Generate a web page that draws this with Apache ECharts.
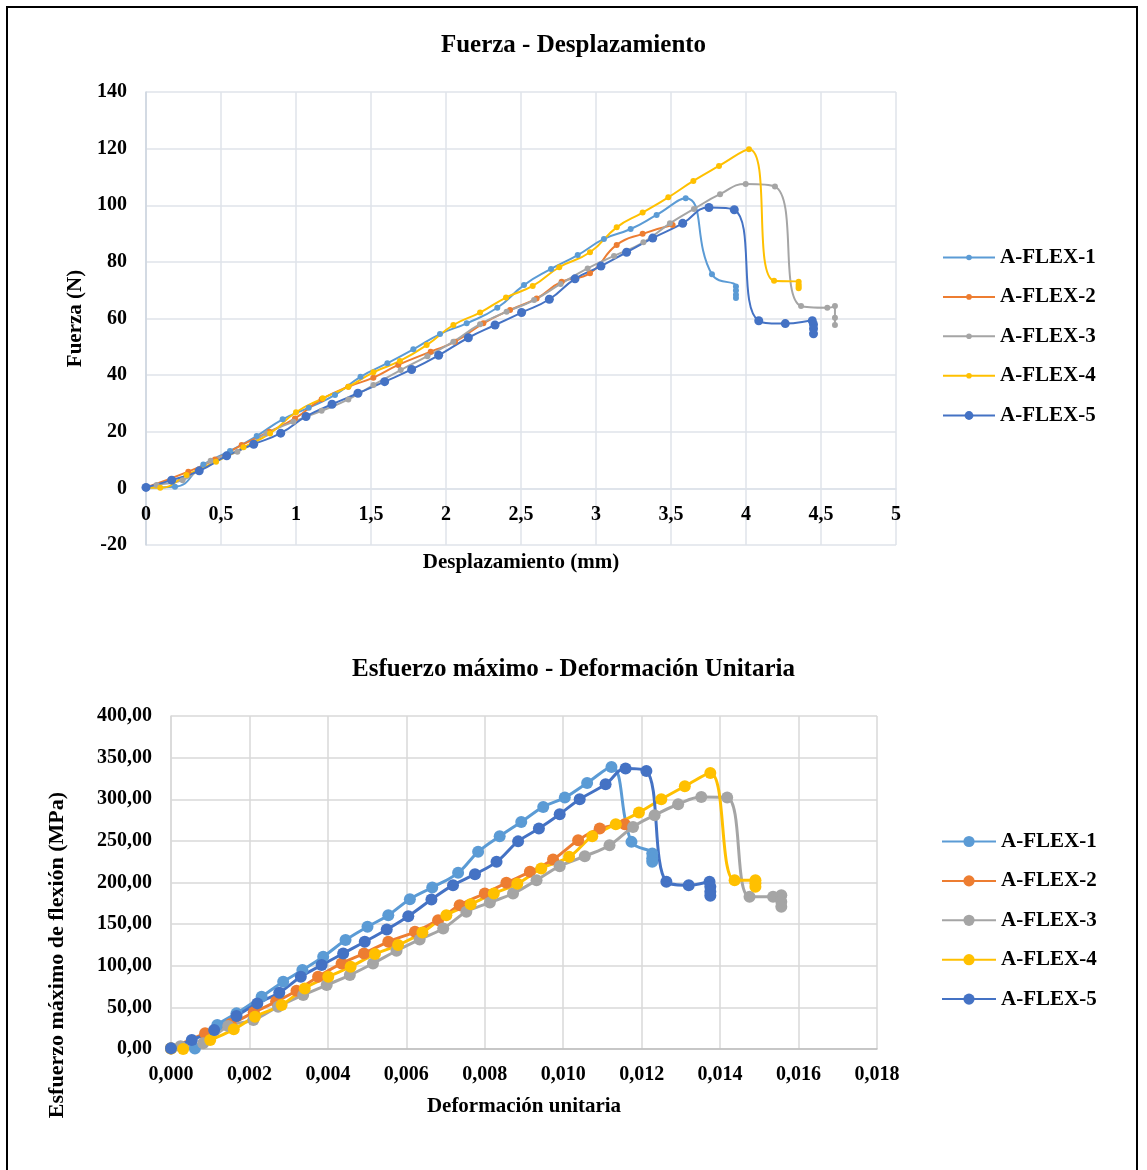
<!DOCTYPE html>
<html>
<head>
<meta charset="utf-8">
<script src="https://cdn.jsdelivr.net/npm/echarts@6/dist/echarts.min.js"></script>
<style>
html,body{margin:0;padding:0;background:#fff;}
#wrap{position:relative;width:1147px;height:1170px;overflow:hidden;}
#frame{position:absolute;left:6px;top:6px;width:1132px;height:1180px;border:2px solid #000;box-sizing:border-box;}
#c1{position:absolute;left:0;top:0;width:1147px;height:600px;}
#c2{position:absolute;left:0;top:600px;width:1147px;height:570px;}
</style>
</head>
<body>
<div id="wrap"><div id="c1"></div><div id="c2"></div><div id="frame"></div></div>
<script>
// ---------- Data: Fuerza - Desplazamiento ----------
const seriesNames = ['A-FLEX-1','A-FLEX-2','A-FLEX-3','A-FLEX-4','A-FLEX-5'];
const colors = ['#5B9BD5','#ED7D31','#A5A5A5','#FFC000','#4472C4'];

const fd1 = [[0,0.3],[0.193,0.6],[0.382,8.4],[0.56,13.2],[0.738,18.5],[0.911,24.4],[1.085,28.5],[1.26,33.0],[1.43,39.4],[1.609,44.2],[1.782,49.1],[1.96,54.5],[2.138,58.3],[2.342,63.8],[2.52,71.8],[2.70,77.5],[2.878,82.4],[3.053,88.1],[3.231,91.6],[3.404,96.6],[3.598,102.5],[3.773,75.6],[3.933,71.3],[3.933,69.9],[3.933,68.4],[3.933,67.2]];
const fd2 = [[0,0.3],[0.282,5.9],[0.46,10.2],[0.638,15.3],[0.822,20.0],[0.993,24.7],[1.171,31.5],[1.349,35.9],[1.516,39.1],[1.682,43.6],[1.898,48.3],[2.06,51.8],[2.249,58.3],[2.427,63.0],[2.604,67.1],[2.771,73.0],[2.96,76.0],[3.138,86.0],[3.311,89.9],[3.511,93.0]];
const fd3 = [[0,0.3],[0.071,1.2],[0.244,2.9],[0.431,9.8],[0.609,12.9],[0.804,19.4],[0.982,23.5],[1.171,27.4],[1.349,31.4],[1.516,36.5],[1.698,41.8],[1.876,46.7],[2.049,51.8],[2.227,58.0],[2.404,62.4],[2.587,66.5],[2.764,72.2],[2.944,77.7],[3.12,82.1],[3.316,86.9],[3.493,93.6],[3.653,98.7],[3.827,103.9],[3.998,107.5],[4.193,106.6],[4.367,64.4],[4.542,63.8],[4.593,64.4],[4.593,60.3],[4.593,57.7]];
const fd4 = [[0,0.3],[0.095,0.2],[0.27,4.7],[0.467,9.4],[0.65,14.5],[0.827,19.4],[1.0,26.9],[1.178,31.8],[1.349,35.9],[1.516,41.0],[1.693,45.0],[1.871,50.6],[2.049,57.7],[2.227,62.1],[2.4,67.4],[2.578,71.5],[2.755,78.1],[2.96,83.4],[3.138,92.2],[3.311,97.4],[3.482,102.8],[3.649,108.6],[3.82,113.9],[4.02,119.8],[4.187,73.3],[4.351,73.0],[4.351,72.0],[4.351,71.3],[4.351,70.7]];
const fd5 = [[0,0.35],[0.171,2.9],[0.355,6.2],[0.538,11.5],[0.718,15.6],[0.898,19.5],[1.067,25.4],[1.24,29.7],[1.413,33.6],[1.591,37.7],[1.771,42.0],[1.951,47.0],[2.149,53.2],[2.327,57.7],[2.504,62.1],[2.689,66.8],[2.86,74.0],[3.033,78.5],[3.204,83.4],[3.378,88.4],[3.578,93.6],[3.753,99.2],[3.922,98.4],[4.085,59.2],[4.262,58.2],[4.442,59.2],[4.45,57.9],[4.45,56.4],[4.45,54.6]];

// ---------- Data: Esfuerzo máximo - Deformación Unitaria ----------
const sd1 = [[0,1],[0.00061,0.5],[0.00118,28.8],[0.00167,42.8],[0.00231,62.8],[0.00286,80.8],[0.00335,94.8],[0.00388,110.8],[0.00445,130.8],[0.00501,146.8],[0.00554,160.8],[0.00609,180],[0.00666,194],[0.00732,211.6],[0.00783,236.8],[0.00838,255.6],[0.00893,272.8],[0.00949,290.8],[0.01004,302],[0.01061,319.6],[0.01123,338.8],[0.01174,248.8],[0.01227,234.8],[0.01227,229],[0.01227,224.8]];
const sd2 = [[0,0.5],[0.00087,18.8],[0.00152,30],[0.00211,44],[0.00268,57],[0.0032,70],[0.00375,86.8],[0.00435,102.8],[0.00492,114.8],[0.00554,128.8],[0.00622,140.8],[0.00681,154.8],[0.00736,172.8],[0.008,186.8],[0.00855,199.6],[0.00915,212.8],[0.00974,227.6],[0.01038,250.8],[0.01093,264.8],[0.01157,270]];
const sd3 = [[0,0.5],[0.00024,3.4],[0.00082,6.8],[0.00146,27.5],[0.0021,34.8],[0.00273,50.8],[0.00337,64.8],[0.00397,76.8],[0.00456,88.8],[0.00515,102.8],[0.00575,118],[0.00634,131.6],[0.00694,144.8],[0.00753,164.8],[0.00813,176],[0.00872,186.8],[0.00932,202.8],[0.00991,219.6],[0.01055,231.6],[0.01118,244.8],[0.01178,266.8],[0.01233,280.8],[0.01293,294],[0.01352,302.8],[0.01418,302],[0.01475,182.8],[0.01535,182.8],[0.01556,184.8],[0.01556,177],[0.01556,170.8]];
const sd4 = [[0,0.5],[0.00031,0],[0.001,10.8],[0.0016,23.6],[0.00214,38.8],[0.00282,52.8],[0.00341,72.8],[0.00401,86.8],[0.00458,98.8],[0.0052,114],[0.00579,124.8],[0.00641,140],[0.00702,160.8],[0.00764,174],[0.00823,186.8],[0.00883,198.4],[0.00944,216.8],[0.01015,230.8],[0.01074,255.6],[0.01134,270],[0.01193,284],[0.0125,300],[0.0131,315.6],[0.01375,331.6],[0.01437,202.8],[0.0149,202.8],[0.0149,199],[0.0149,194.8]];
const sd5 = [[0,0.8],[0.00053,10.8],[0.0011,22.8],[0.00167,39.6],[0.0022,54.8],[0.00276,67.6],[0.00331,86.8],[0.00384,100.8],[0.00439,114.8],[0.00494,128.8],[0.0055,143.6],[0.00605,159.6],[0.00664,179.6],[0.00719,196.8],[0.00775,210],[0.0083,224.8],[0.00885,249.4],[0.00938,264.8],[0.00991,282],[0.01042,300],[0.01108,318],[0.01159,336.8],[0.01212,334],[0.01263,200.8],[0.0132,196.8],[0.01373,200.8],[0.01375,195],[0.01375,189],[0.01375,184]];

const fdData = [fd1, fd2, fd3, fd4, fd5];
const sdData = [sd1, sd2, sd3, sd4, sd5];

const FONT = '"Liberation Serif", "Times New Roman", serif';
const bold = (size) => ({ fontFamily: FONT, fontWeight: 'bold', fontSize: size, color: '#000' });

// ---------- Chart 1 ----------
const ch1 = echarts.init(document.getElementById('c1'), null, { renderer: 'canvas' });
const plotH1 = 453; // px height of plot (-20..140)
ch1.setOption({
  animation: false,
  backgroundColor: 'transparent',
  title: { text: 'Fuerza - Desplazamiento', left: 'center', top: 33, padding: 0, textStyle: bold(25) },
  legend: [
    { data: seriesNames.slice(0,4), orient: 'vertical', left: 942, top: 247, padding: 0,
      itemWidth: 52, itemHeight: 7, itemGap: 18.4, selectedMode: false,
      textStyle: Object.assign(bold(21), { lineHeight: 18 }) },
    { data: [seriesNames[4]], orient: 'vertical', left: 942, top: 405, padding: 0,
      itemWidth: 52, itemHeight: 11, selectedMode: false,
      textStyle: Object.assign(bold(21), { lineHeight: 18 }) }
  ],
  grid: { left: 146, right: 251, top: 92, bottom: 55, containLabel: false, outerBoundsMode: 'none' },
  xAxis: {
    type: 'value', min: 0, max: 5, interval: 0.5,
    offset: -plotH1 * 20 / 160,
    axisLine: { onZero: false, lineStyle: { color: '#dde2ea', width: 1.5 } },
    axisTick: { show: false },
    splitLine: { lineStyle: { color: '#dfe3ea', width: 1.5 } },
    axisLabel: Object.assign(bold(20), { margin: 16, formatter: v => String(v).replace('.', ',') }),
    name: 'Desplazamiento (mm)', nameLocation: 'middle', nameGap: 64, nameTextStyle: bold(21)
  },
  yAxis: {
    type: 'value', min: -20, max: 140, interval: 20,
    axisLine: { show: true, lineStyle: { color: '#cdd4df', width: 1.5 } },
    axisTick: { show: false },
    splitLine: { lineStyle: { color: '#dfe3ea', width: 1.5 } },
    axisLabel: Object.assign(bold(20), { margin: 19 }),
    name: 'Fuerza (N)', nameLocation: 'middle', nameRotate: 90, nameGap: 60, nameTextStyle: bold(21)
  },
  series: fdData.map((d, i) => ({
    name: seriesNames[i], type: 'line', data: d, smooth: 0.5,
    symbol: 'circle', symbolSize: i === 4 ? 9 : 6,
    lineStyle: { width: 2, color: colors[i] },
    itemStyle: { color: colors[i] },
    emphasis: { disabled: true }
  }))
});

// ---------- Chart 2 ----------
const ch2 = echarts.init(document.getElementById('c2'), null, { renderer: 'canvas' });
ch2.setOption({
  animation: false,
  backgroundColor: 'transparent',
  title: { text: 'Esfuerzo máximo - Deformación Unitaria', left: 'center', top: 57, padding: 0, textStyle: bold(25) },
  legend: {
    data: seriesNames, orient: 'vertical', left: 941, top: 231, padding: 0,
    itemWidth: 54, itemHeight: 14, itemGap: 18.4, selectedMode: false,
    textStyle: Object.assign(bold(21), { lineHeight: 18 })
  },
  grid: { left: 171, right: 270, top: 116, bottom: 121, containLabel: false, outerBoundsMode: 'none' },
  xAxis: {
    type: 'value', min: 0, max: 0.018, interval: 0.002,
    axisLine: { onZero: false, lineStyle: { color: '#bfbfbf', width: 1.5 } },
    axisTick: { show: false },
    splitLine: { lineStyle: { color: '#d9d9d9', width: 1.5 } },
    axisLabel: Object.assign(bold(20), { margin: 16, formatter: v => v.toFixed(3).replace('.', ',') }),
    name: 'Deformación unitaria', nameLocation: 'middle', nameGap: 47, nameTextStyle: bold(21)
  },
  yAxis: {
    type: 'value', min: 0, max: 400, interval: 50,
    axisLine: { show: true, lineStyle: { color: '#d9d9d9', width: 1.5 } },
    axisTick: { show: false },
    splitLine: { lineStyle: { color: '#d9d9d9', width: 1.5 } },
    axisLabel: Object.assign(bold(20), { margin: 19, formatter: v => v.toFixed(2).replace('.', ',') })
  },
  graphic: [{
    type: 'text', x: 57, y: 355, rotation: Math.PI / 2,
    style: { text: 'Esfuerzo máximo de flexión (MPa)', align: 'center', verticalAlign: 'middle',
      fill: '#000', font: 'bold 22px "Liberation Serif", "Times New Roman", serif' }
  }],
  series: sdData.map((d, i) => ({
    name: seriesNames[i], type: 'line', data: d, smooth: 0.4,
    symbol: 'circle', symbolSize: 12,
    lineStyle: { width: 3, color: colors[i] },
    itemStyle: { color: colors[i] },
    emphasis: { disabled: true }
  }))
});
</script>
</body>
</html>
